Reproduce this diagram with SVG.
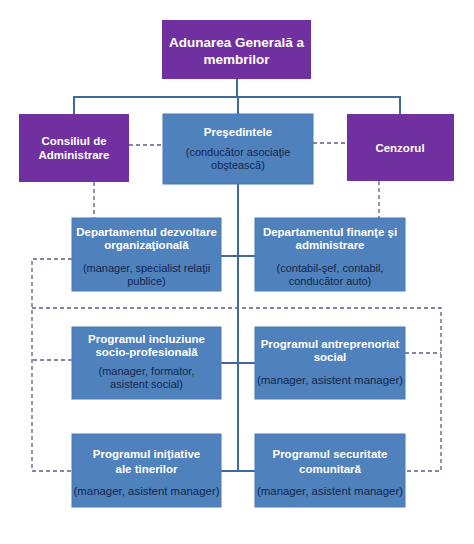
<svg xmlns="http://www.w3.org/2000/svg" width="474" height="544" viewBox="0 0 474 544">
<style>
.p{fill:#7030A0}
.b{fill:#4F81BD;stroke:#4A7BB7;stroke-width:1}
.h{font-family:"Liberation Sans",Arial,sans-serif;font-weight:bold;fill:#fff;text-anchor:middle}
.s{font-family:"Liberation Sans",Arial,sans-serif;fill:#13274a;text-anchor:middle;font-size:11px}
.sol{stroke:#3F6B9C;stroke-width:2;fill:none}
.dsh{stroke:#6B5585;stroke-width:1.3;fill:none;stroke-dasharray:4 3}
</style>
<rect width="474" height="544" fill="#fff"/>
<g id="connectors">
<path class="sol" d="M237 79V97M74 114V97H400V114M238 97V114M238 184V471M221 256H255M221 363H255M221 471H255"/>
<path class="dsh" d="M129 145H163M313 143H347M94 182V218M379 181V218M72 259H32V471H72M32 308H441V471H405M72 360H32M405 353H441"/>
</g>
<g id="adunarea">
<rect class="p" x="162" y="20" width="149" height="59"/>
<text class="h" font-size="13.5" x="236.5" y="47">Adunarea Generală a</text>
<text class="h" font-size="13.5" x="236.5" y="64">membrilor</text>
</g>
<g id="consiliul">
<rect class="p" x="19" y="114" width="110" height="68"/>
<text class="h" font-size="11.5" x="74" y="145">Consiliul de</text>
<text class="h" font-size="11.5" x="74" y="159">Administrare</text>
</g>
<g id="presedintele">
<rect class="b" x="163" y="114" width="150" height="70"/>
<text class="h" font-size="11.5" x="238" y="136">Preşedintele</text>
<text class="s" x="238" y="156">(conducător asociaţie</text>
<text class="s" x="238" y="169">obştească)</text>
</g>
<g id="cenzorul">
<rect class="p" x="347" y="114" width="107" height="67"/>
<text class="h" font-size="11.5" x="400" y="152">Cenzorul</text>
</g>
<g id="dept-dezvoltare">
<rect class="b" x="72" y="218" width="149" height="73"/>
<text class="h" font-size="11.5" x="146.5" y="236">Departamentul dezvoltare</text>
<text class="h" font-size="11.5" x="146.5" y="249">organizaţională</text>
<text class="s" x="146.5" y="272">(manager, specialist relaţii</text>
<text class="s" x="146.5" y="285">publice)</text>
</g>
<g id="dept-finante">
<rect class="b" x="255" y="218" width="150" height="73"/>
<text class="h" font-size="11.5" x="330" y="236">Departamentul finanţe şi</text>
<text class="h" font-size="11.5" x="330" y="249">administrare</text>
<text class="s" x="330" y="272">(contabil-şef, contabil,</text>
<text class="s" x="330" y="285">conducător auto)</text>
</g>
<g id="prog-incluziune">
<rect class="b" x="72" y="327" width="149" height="72"/>
<text class="h" font-size="11.5" x="146.5" y="343">Programul incluziune</text>
<text class="h" font-size="11.5" x="146.5" y="356">socio-profesională</text>
<text class="s" x="146.5" y="375">(manager, formator,</text>
<text class="s" x="146.5" y="388">asistent social)</text>
</g>
<g id="prog-antreprenoriat">
<rect class="b" x="255" y="327" width="150" height="72"/>
<text class="h" font-size="11.5" x="330" y="348">Programul antreprenoriat</text>
<text class="h" font-size="11.5" x="330" y="361">social</text>
<text class="s" x="330" y="384" textLength="146" lengthAdjust="spacingAndGlyphs">(manager, asistent manager)</text>
</g>
<g id="prog-initiative">
<rect class="b" x="72" y="434" width="149" height="73"/>
<text class="h" font-size="11.5" x="146.5" y="458">Programul iniţiative</text>
<text class="h" font-size="11.5" x="146.5" y="473">ale tinerilor</text>
<text class="s" x="146.5" y="495" textLength="146" lengthAdjust="spacingAndGlyphs">(manager, asistent manager)</text>
</g>
<g id="prog-securitate">
<rect class="b" x="255" y="434" width="150" height="73"/>
<text class="h" font-size="11.5" x="330" y="458">Programul securitate</text>
<text class="h" font-size="11.5" x="330" y="473">comunitară</text>
<text class="s" x="330" y="495" textLength="146" lengthAdjust="spacingAndGlyphs">(manager, asistent manager)</text>
</g>
</svg>
